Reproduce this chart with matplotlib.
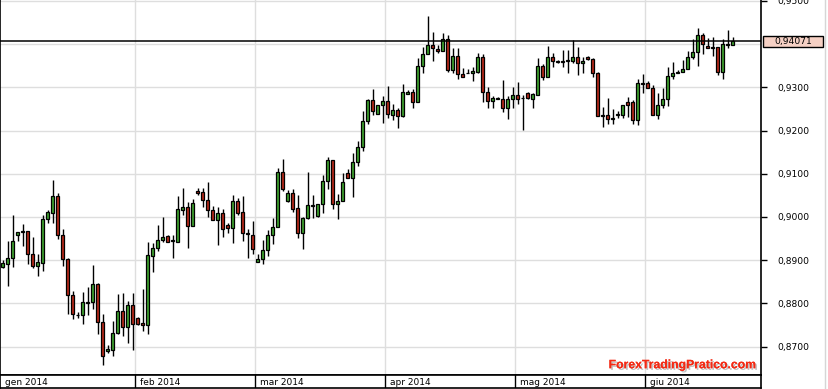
import matplotlib
matplotlib.use("Agg")
import matplotlib.pyplot as plt
import matplotlib.patheffects as pe
import matplotlib.transforms as mtransforms
from matplotlib.patches import Rectangle
from matplotlib.lines import Line2D
import numpy as np
import pandas as pd

# ---- data (daily candles, Jan-Jun 2014, Sunday sessions included) ----
start_date = "2014-01-01"
month_names = ["gen", "feb", "mar", "apr", "mag", "giu", "lug", "ago", "set", "ott", "nov", "dic"]

open_ = [0.8883, 0.8892, 0.8904, 0.8957, 0.8966, 0.8967, 0.8915, 0.8887, 0.8894, 0.8996,
         0.9010, 0.9048, 0.8959, 0.8903, 0.8820, 0.8772, 0.8772, 0.8801, 0.8802, 0.8844,
         0.8757, 0.8690, 0.8693, 0.8731, 0.8783, 0.8746, 0.8796, 0.8765, 0.8754, 0.8749,
         0.8910, 0.8927, 0.8946, 0.8956, 0.8944, 0.8943, 0.9017, 0.9023, 0.8980, 0.9061,
         0.9057, 0.9039, 0.9017, 0.8992, 0.9009, 0.8981, 0.8975, 0.9037, 0.9011, 0.8962,
         0.8959, 0.8895, 0.8902, 0.8923, 0.8957, 0.8976, 0.9103, 0.9036, 0.9055, 0.9020,
         0.8963, 0.8997, 0.9027, 0.9001, 0.9030, 0.9082, 0.9131, 0.9029, 0.9036, 0.9101,
         0.9091, 0.9126, 0.9161, 0.9221, 0.9271, 0.9238, 0.9258, 0.9268, 0.9237, 0.9247,
         0.9233, 0.9284, 0.9288, 0.9265, 0.9349, 0.9376, 0.9397, 0.9389, 0.9383, 0.9411,
         0.9340, 0.9372, 0.9331, 0.9332, 0.9332, 0.9336, 0.9370, 0.9288, 0.9268, 0.9273,
         0.9273, 0.9251, 0.9272, 0.9282, 0.9276, 0.9286, 0.9273, 0.9283, 0.9349, 0.9323,
         0.9370, 0.9359, 0.9360, 0.9361, 0.9362, 0.9370, 0.9356, 0.9371, 0.9366, 0.9334,
         0.9234, 0.9235, 0.9227, 0.9236, 0.9237, 0.9265, 0.9266, 0.9224, 0.9309, 0.9309,
         0.9298, 0.9235, 0.9258, 0.9272, 0.9326, 0.9334, 0.9335, 0.9342, 0.9369, 0.9381,
         0.9421, 0.9396, 0.9391, 0.9393, 0.9336, 0.9399, 0.9398]
high = [0.8900, 0.8945, 0.9004, 0.8964, 0.8983, 0.8967, 0.8953, 0.8914, 0.9004, 0.9016,
        0.9085, 0.9056, 0.8972, 0.8904, 0.8828, 0.8780, 0.8826, 0.8837, 0.8888, 0.8847,
        0.8775, 0.8703, 0.8759, 0.8821, 0.8825, 0.8805, 0.8824, 0.8769, 0.8834, 0.8942,
        0.8940, 0.8981, 0.9000, 0.8959, 0.8958, 0.9048, 0.9068, 0.9034, 0.9041, 0.9066,
        0.9068, 0.9081, 0.9026, 0.9022, 0.9018, 0.8985, 0.9051, 0.9043, 0.9049, 0.8972,
        0.8990, 0.8915, 0.8946, 0.8970, 0.8997, 0.9114, 0.9134, 0.9062, 0.9065, 0.9050,
        0.8999, 0.9103, 0.9051, 0.9029, 0.9098, 0.9139, 0.9132, 0.9053, 0.9101, 0.9110,
        0.9149, 0.9176, 0.9244, 0.9273, 0.9296, 0.9258, 0.9279, 0.9303, 0.9262, 0.9251,
        0.9308, 0.9294, 0.9296, 0.9367, 0.9394, 0.9464, 0.9427, 0.9398, 0.9425, 0.9420,
        0.9390, 0.9390, 0.9344, 0.9342, 0.9348, 0.9380, 0.9377, 0.9300, 0.9281, 0.9278,
        0.9317, 0.9280, 0.9300, 0.9312, 0.9282, 0.9288, 0.9287, 0.9367, 0.9353, 0.9396,
        0.9379, 0.9363, 0.9387, 0.9387, 0.9410, 0.9393, 0.9371, 0.9373, 0.9367, 0.9336,
        0.9255, 0.9275, 0.9250, 0.9244, 0.9258, 0.9277, 0.9271, 0.9319, 0.9331, 0.9315,
        0.9305, 0.9287, 0.9299, 0.9347, 0.9359, 0.9340, 0.9364, 0.9385, 0.9412, 0.9437,
        0.9426, 0.9414, 0.9417, 0.9394, 0.9412, 0.9433, 0.9417]
low = [0.8882, 0.8840, 0.8885, 0.8945, 0.8933, 0.8892, 0.8882, 0.8864, 0.8875, 0.8985,
       0.8987, 0.8949, 0.8887, 0.8776, 0.8763, 0.8767, 0.8753, 0.8774, 0.8786, 0.8730,
       0.8658, 0.8684, 0.8678, 0.8730, 0.8724, 0.8709, 0.8692, 0.8749, 0.8736, 0.8730,
       0.8873, 0.8922, 0.8943, 0.8943, 0.8905, 0.8943, 0.9004, 0.8927, 0.8979, 0.9051,
       0.9022, 0.9000, 0.8992, 0.8936, 0.8953, 0.8962, 0.8939, 0.9004, 0.8944, 0.8904,
       0.8915, 0.8895, 0.8890, 0.8909, 0.8938, 0.8976, 0.9060, 0.9034, 0.9012, 0.8952,
       0.8925, 0.8996, 0.8997, 0.9000, 0.9010, 0.9065, 0.9019, 0.8994, 0.9036, 0.9091,
       0.9047, 0.9118, 0.9153, 0.9216, 0.9236, 0.9238, 0.9218, 0.9228, 0.9224, 0.9205,
       0.9232, 0.9284, 0.9253, 0.9265, 0.9334, 0.9376, 0.9361, 0.9379, 0.9383, 0.9336,
       0.9334, 0.9320, 0.9325, 0.9332, 0.9315, 0.9333, 0.9267, 0.9251, 0.9253, 0.9273,
       0.9242, 0.9227, 0.9251, 0.9261, 0.9201, 0.9274, 0.9251, 0.9282, 0.9318, 0.9323,
       0.9346, 0.9356, 0.9348, 0.9332, 0.9356, 0.9328, 0.9334, 0.9363, 0.9323, 0.9233,
       0.9209, 0.9214, 0.9214, 0.9228, 0.9230, 0.9232, 0.9214, 0.9212, 0.9287, 0.9298,
       0.9235, 0.9227, 0.9251, 0.9257, 0.9319, 0.9334, 0.9335, 0.9342, 0.9365, 0.9350,
       0.9376, 0.9390, 0.9373, 0.9329, 0.9319, 0.9390, 0.9398]
close = [0.8893, 0.8905, 0.8944, 0.8964, 0.8967, 0.8915, 0.8887, 0.8895, 0.8995, 0.9011,
         0.9048, 0.8959, 0.8903, 0.8820, 0.8776, 0.8773, 0.8804, 0.8804, 0.8844, 0.8757,
         0.8678, 0.8694, 0.8731, 0.8783, 0.8746, 0.8796, 0.8753, 0.8753, 0.8749, 0.8911,
         0.8928, 0.8946, 0.8953, 0.8943, 0.8946, 0.9018, 0.9023, 0.8980, 0.9032, 0.9056,
         0.9038, 0.9017, 0.8992, 0.9008, 0.8973, 0.8975, 0.9037, 0.9010, 0.8962, 0.8960,
         0.8925, 0.8903, 0.8923, 0.8958, 0.8976, 0.9103, 0.9065, 0.9056, 0.9018, 0.8963,
         0.8997, 0.9027, 0.9025, 0.9029, 0.9082, 0.9131, 0.9029, 0.9036, 0.9080, 0.9091,
         0.9126, 0.9162, 0.9221, 0.9271, 0.9244, 0.9258, 0.9268, 0.9238, 0.9247, 0.9233,
         0.9288, 0.9289, 0.9265, 0.9349, 0.9377, 0.9399, 0.9392, 0.9383, 0.9411, 0.9340,
         0.9372, 0.9331, 0.9325, 0.9333, 0.9337, 0.9370, 0.9288, 0.9268, 0.9275, 0.9274,
         0.9251, 0.9273, 0.9282, 0.9274, 0.9275, 0.9275, 0.9284, 0.9349, 0.9323, 0.9370,
         0.9362, 0.9360, 0.9359, 0.9362, 0.9370, 0.9356, 0.9361, 0.9366, 0.9332, 0.9233,
         0.9235, 0.9226, 0.9228, 0.9237, 0.9258, 0.9258, 0.9224, 0.9310, 0.9308, 0.9298,
         0.9235, 0.9259, 0.9273, 0.9326, 0.9333, 0.9336, 0.9343, 0.9370, 0.9382, 0.9421,
         0.9400, 0.9390, 0.9392, 0.9336, 0.9400, 0.9400, 0.94071]

grid_levels = [0.87, 0.88, 0.89, 0.90, 0.91, 0.92, 0.93, 0.94, 0.95]
y_ticks = [0.87, 0.88, 0.89, 0.90, 0.91, 0.92, 0.93, 0.95]   # 0.94 hidden by price box
last_price = 0.94071
watermark = "ForexTradingPratico.com"

# ---- figure ----
W, H = 829, 389
fig = plt.figure(figsize=(W / 100, H / 100), dpi=100)
fig.patch.set_facecolor("white")

plot_right = 761
ax = fig.add_axes([0, 14 / H, plot_right / W, 375 / H])
axb = fig.add_axes([0, 1 / H, plot_right / W, 13 / H], sharex=ax)

n = len(close)
dates = pd.bdate_range(start=start_date, periods=n, freq="C",
                       weekmask="Sun Mon Tue Wed Thu Fri")
x = np.arange(n)
o = np.array(open_); h = np.array(high); l = np.array(low); c = np.array(close)
up = c >= o

green = "#3ea12e"
red = "#b5291a"

months = dates.month
bounds = [i for i in range(n) if i == 0 or months[i] != months[i - 1]]

ax.set_xlim(-0.5, -0.5 + plot_right / 5.0)
ax.set_ylim(0.93 - (375 - 87.3) / 4320, 0.93 + 87.3 / 4320)

for yt in grid_levels:
    ax.axhline(yt, color="#dedede", lw=1, zorder=0)
for b in bounds[1:]:
    ax.axvline(b - 0.5, color="#dedede", lw=1, zorder=0)

ax.vlines(x, l, h, color="black", lw=1, zorder=2)
body_bottom = np.minimum(o, c)
body_h = np.maximum(np.abs(c - o), 0.00012)
cols = [green if u else red for u in up]
ax.bar(x, body_h, bottom=body_bottom, width=0.62, color=cols,
       edgecolor="black", linewidth=0.9, zorder=3)

ax.axhline(last_price, color="black", lw=1.1, zorder=4)

ax.spines["top"].set_visible(False)
for s in ["left", "bottom", "right"]:
    ax.spines[s].set_color("black")
    ax.spines[s].set_linewidth(1.2)

ax.yaxis.tick_right()
ax.set_yticks(y_ticks)
ax.set_yticklabels([f"{v:.4f}".replace(".", ",") for v in y_ticks])
ax.tick_params(axis="y", length=4.5, width=1, pad=7, labelsize=6.6, colors="black")
ax.tick_params(axis="x", bottom=False, labelbottom=False)

trans = mtransforms.blended_transform_factory(ax.transAxes, ax.transData)
box_h = 11 / 4320
ax.add_patch(Rectangle((763 / plot_right, last_price - box_h / 2), 60 / plot_right, box_h,
                       transform=trans, facecolor="#f5d0c4", edgecolor="black",
                       lw=1, clip_on=False, zorder=5))
ax.text(793 / plot_right, last_price, f"{last_price:.5f}".replace(".", ","),
        transform=trans, ha="center", va="center", fontsize=6.6, color="black",
        clip_on=False, zorder=6)

ax.text(757 / plot_right, 0.026, watermark, transform=ax.transAxes, ha="right",
        va="center", fontsize=8.8, fontweight="bold", family="Liberation Sans",
        color="#f42a14", zorder=6,
        path_effects=[pe.withSimplePatchShadow(offset=(1.2, -1.2),
                                               shadow_rgbFace="#9a9a9a", alpha=0.6),
                      pe.Normal()])

for s in axb.spines.values():
    s.set_color("black")
    s.set_linewidth(1.2)
axb.set_ylim(0, 1)
axb.set_yticks([])
axb.tick_params(axis="x", bottom=False, labelbottom=False)
for b in bounds:
    if b > 0:
        axb.axvline(b - 0.5, color="black", lw=1)
    lbl = f"{month_names[dates[b].month - 1]} {dates[b].year}"
    axb.text(b - 0.5 + 1.0, 0.45, lbl, ha="left", va="center", fontsize=6.5,
             color="black")

fig.add_artist(Line2D([825.5 / W, 825.5 / W], [0, 1], color="#d6d6d6", lw=1))

fig.savefig("out.png", dpi=100, facecolor="white")
